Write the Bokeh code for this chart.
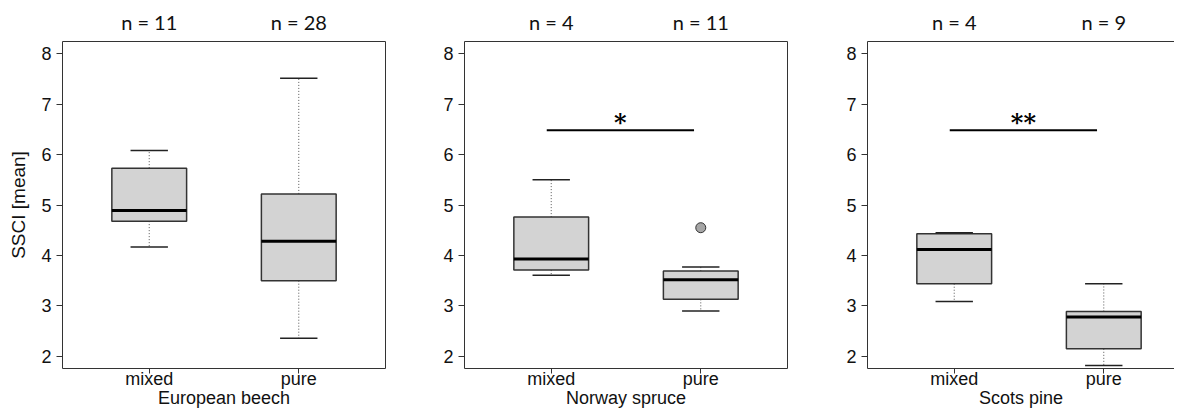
from bokeh.plotting import figure
from bokeh.models import Range1d, FixedTicker, LinearAxis
from bokeh.layouts import row
from bokeh.embed import file_html
from bokeh.resources import INLINE
from bokeh.core.properties import value

# ---------------- data ----------------
groups = ["mixed", "pure"]
species = ["European beech", "Norway spruce", "Scots pine"]
n_obs = [[11, 28], [4, 11], [4, 9]]
whisker_low = [[4.17, 2.36], [3.61, 2.90], [3.09, 1.82]]
q1 = [[4.68, 3.50], [3.71, 3.13], [3.44, 2.15]]
median = [[4.89, 4.28], [3.93, 3.52], [4.12, 2.78]]
q3 = [[5.73, 5.22], [4.76, 3.69], [4.43, 2.89]]
whisker_high = [[6.08, 7.51], [5.50, 3.77], [4.45, 3.44]]
outliers = [[[], []], [[], [4.55]], [[], []]]
signif = ["", "*", "**"]
signif_y = [None, 6.48, 6.48]
y_ticks = [2, 3, 4, 5, 6, 7, 8]
y_lim = (2, 8)

# ---------------- layout / style ----------------
FIG_W = [420, 408, 346]
BORDER_L = [62, 44, 39]
BORDER_R = [35, 41, 0]
FIG_H = 410
BORDER_T = 41
BORDER_B = 42
FULL_FRAME_W = 323
BOX_W = 0.5
CAP_W = 0.25
TICK_FONT = "Liberation Sans"
EDGE = "#333333"
TXT = "#111111"

pos = [i + 1 for i in range(len(groups))]
x_pad = 0.04 * (len(groups))          # R-style 4% extension of (0.5, n+0.5)
x_lo = 0.5 - x_pad
x_hi_full = len(groups) + 0.5 + x_pad
px_per_unit = FULL_FRAME_W / (x_hi_full - x_lo)
y_pad = 0.04 * (y_lim[1] - y_lim[0])

figs = []
for k, sp in enumerate(species):
    frame_w = FIG_W[k] - BORDER_L[k] - BORDER_R[k]
    x_hi = x_lo + frame_w / px_per_unit
    p = figure(width=FIG_W[k], height=FIG_H,
               x_range=Range1d(x_lo, x_hi),
               y_range=Range1d(y_lim[0] - y_pad, y_lim[1] + y_pad),
               output_backend="svg", toolbar_location=None,
               min_border_left=BORDER_L[k], min_border_right=BORDER_R[k],
               min_border_top=BORDER_T, min_border_bottom=BORDER_B,
               background_fill_color="white", border_fill_color="white")
    p.xgrid.visible = False
    p.ygrid.visible = False
    last = (k == len(species) - 1)
    if last:
        p.outline_line_color = None
    else:
        p.outline_line_color = EDGE
        p.outline_line_width = 1

    # bottom axis: group names + species name
    xa = p.xaxis[0]
    xa.ticker = FixedTicker(ticks=pos)
    xa.major_label_overrides = {pp: g for pp, g in zip(pos, groups)}
    xa.major_tick_out = 5
    xa.major_tick_in = 0
    xa.minor_tick_line_color = None
    xa.major_label_standoff = -5
    xa.major_label_text_font = TICK_FONT
    xa.major_label_text_font_size = "18px"
    xa.major_label_text_color = TXT
    xa.major_tick_line_color = EDGE
    xa.axis_line_color = EDGE if last else None
    xa.axis_label = sp
    xa.axis_label_text_font = TICK_FONT
    xa.axis_label_text_font_size = "18px"
    xa.axis_label_text_font_style = "normal"
    xa.axis_label_text_color = TXT
    xa.axis_label_standoff = -4

    ya = p.yaxis[0]
    ya.ticker = FixedTicker(ticks=y_ticks)
    ya.major_tick_out = 6
    ya.major_tick_in = 0
    ya.minor_tick_line_color = None
    ya.major_label_standoff = 5
    ya.major_label_text_font = TICK_FONT
    ya.major_label_text_font_size = "18px"
    ya.major_label_text_color = TXT
    ya.major_tick_line_color = EDGE
    ya.axis_line_color = EDGE if last else None
    if k == 0:
        ya.axis_label = "SSCI [mean]"
        ya.axis_label_text_font = TICK_FONT
        ya.axis_label_text_font_size = "19px"
        ya.axis_label_text_font_style = "normal"
        ya.axis_label_text_color = TXT
        ya.axis_label_standoff = 9

    top = LinearAxis(ticker=FixedTicker(ticks=pos),
                     major_label_overrides={pp: f"n = {n}" for pp, n in zip(pos, n_obs[k])},
                     major_tick_out=0, major_tick_in=0,
                     minor_tick_line_color=None,
                     major_tick_line_color=None,
                     axis_line_color=EDGE if last else None,
                     major_label_standoff=8,
                     major_label_text_font="Lato",
                     major_label_text_font_size="20px",
                     major_label_text_color=TXT)
    p.add_layout(top, "above")

    # whisker stems (dotted)
    p.segment(x0=pos, x1=pos, y0=q3[k], y1=whisker_high[k],
              line_color="#555555", line_width=1, line_dash="1 2")
    p.segment(x0=pos, x1=pos, y0=q1[k], y1=whisker_low[k],
              line_color="#555555", line_width=1, line_dash="1 2")
    # boxes
    p.vbar(x=pos, width=BOX_W, bottom=q1[k], top=q3[k],
           fill_color="#D3D3D3", line_color=EDGE, line_width=1.5)
    # medians
    p.segment(x0=[x - BOX_W / 2 for x in pos], x1=[x + BOX_W / 2 for x in pos],
              y0=median[k], y1=median[k], line_color="black", line_width=3)
    # caps
    for arr in (whisker_high[k], whisker_low[k]):
        p.segment(x0=[x - CAP_W / 2 for x in pos], x1=[x + CAP_W / 2 for x in pos],
                  y0=arr, y1=arr, line_color="#222222", line_width=1.5)
    # outliers
    ox, oy = [], []
    for gi, vals in enumerate(outliers[k]):
        for v in vals:
            ox.append(pos[gi])
            oy.append(v)
    if ox:
        p.scatter(x=ox, y=oy, size=10, fill_color="#A6A6A6", line_color=EDGE, line_width=1)

    # significance bar
    if signif[k]:
        x0 = pos[0] - 0.03
        x1 = pos[1] - 0.045
        p.segment(x0=[x0], x1=[x1], y0=[signif_y[k]], y1=[signif_y[k]],
                  line_color="black", line_width=2)
        p.text(x=[(x0 + x1) / 2], y=[signif_y[k]], text=[signif[k]],
               text_align="center", text_baseline="bottom", y_offset=7,
               text_font=value("DejaVu Serif"), text_font_style="bold",
               text_font_size="24px", text_color="black")

    figs.append(p)

layout = row(*figs, spacing=0)
open("out.html", "w").write(file_html(layout, INLINE))
